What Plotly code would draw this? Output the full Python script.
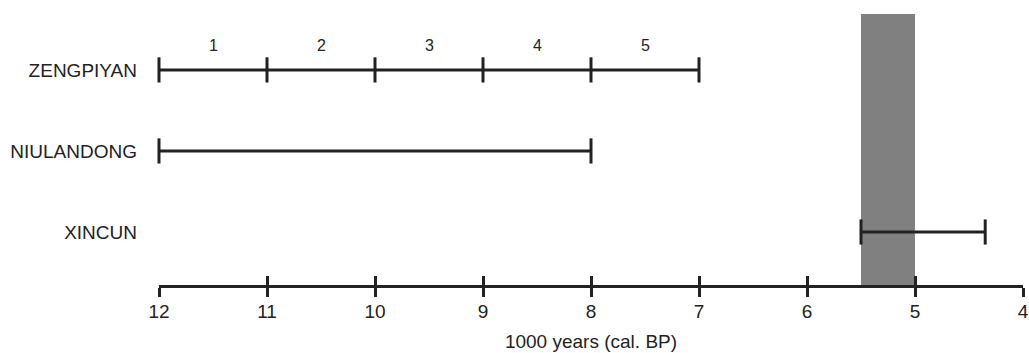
import plotly.graph_objects as go

# ---- data ----
sites = ["ZENGPIYAN", "NIULANDONG", "XINCUN"]
site_rows = [3, 2, 1]
zengpiyan_bounds = [12, 11, 10, 9, 8, 7]
phase_labels = ["1", "2", "3", "4", "5"]
niulandong_range = [12, 8]
xincun_range = [5.5, 4.35]
shaded_band = [5.5, 5.0]
axis_ticks = [12, 11, 10, 9, 8, 7, 6, 5, 4]
axis_title = "1000 years (cal. BP)"

INK = "#222222"
FONT = "Liberation Sans, Arial, Helvetica, sans-serif"

fig = go.Figure()

def interval(xs, row):
    fig.add_trace(go.Scatter(
        x=xs, y=[row] * len(xs), mode="lines+markers",
        line=dict(color=INK, width=3),
        marker=dict(symbol="line-ns", size=18, line=dict(color=INK, width=3)),
        hoverinfo="skip", showlegend=False, cliponaxis=False))

interval(zengpiyan_bounds, site_rows[0])
interval(niulandong_range, site_rows[1])
interval(xincun_range, site_rows[2])

# phase labels at midpoints
mids = [(a + b) / 2 for a, b in zip(zengpiyan_bounds[:-1], zengpiyan_bounds[1:])]
for m, lab in zip(mids, phase_labels):
    fig.add_annotation(x=m, y=site_rows[0], text=lab, showarrow=False,
                       yshift=24, font=dict(size=16, color=INK, family=FONT))

# shaded band
fig.add_shape(type="rect", xref="x", yref="paper",
              x0=shaded_band[0], x1=shaded_band[1], y0=0, y1=1,
              fillcolor="#808080", line=dict(width=0), layer="below")

common_x = dict(range=[12, 4], tickvals=axis_ticks, showgrid=False,
                zeroline=False, tickcolor=INK, tickwidth=3, ticklen=9,
                automargin=False)

fig.update_layout(
    width=1029, height=353,
    margin=dict(l=159, r=6, t=14, b=68),
    paper_bgcolor="white", plot_bgcolor="white",
    font=dict(family=FONT, size=19, color=INK),
    xaxis=dict(**common_x, showline=True, linecolor=INK, linewidth=3,
               ticks="outside", ticklabeloverflow="allow",
               ticklabelstandoff=-2,
               tickfont=dict(size=19, color=INK),
               title=dict(text=axis_title, standoff=14,
                          font=dict(size=19, color=INK))),
    xaxis2=dict(**common_x, overlaying="x", matches="x", side="bottom",
                anchor="y", ticks="inside", showticklabels=False,
                showline=False),
    yaxis=dict(range=[0.346, 3.69], tickvals=site_rows, ticktext=sites,
               showgrid=False, zeroline=False, showline=False, ticks="",
               ticklabelstandoff=21, automargin=False,
               tickfont=dict(size=19, color=INK)),
)
# invisible trace so the inside ticks of xaxis2 are drawn
fig.add_trace(go.Scatter(x=[12, 4], y=[None, None], xaxis="x2",
                         mode="markers", showlegend=False, hoverinfo="skip"))

# remove the browser's default body margin so the figure fills the window
fig.write_html("out.html",
               config={"displayModeBar": False, "staticPlot": True},
               post_script="document.body.style.margin='0';"
                           "document.body.style.overflow='hidden';")
